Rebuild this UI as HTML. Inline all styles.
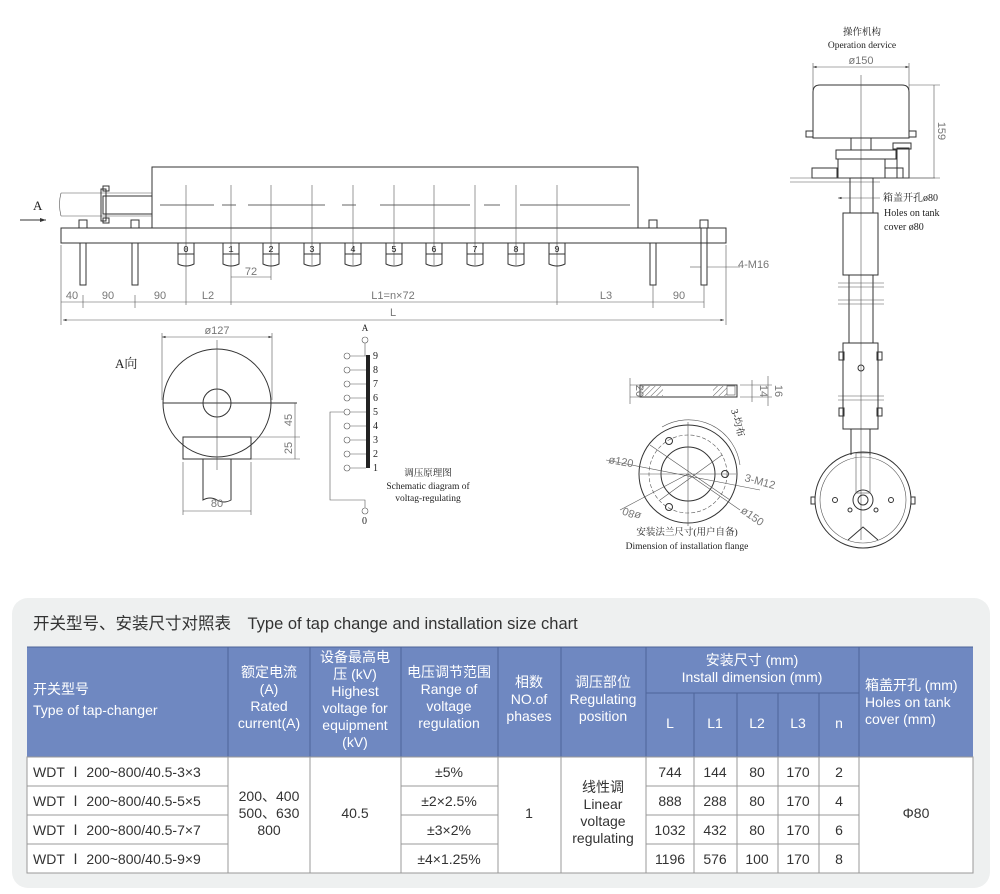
<!DOCTYPE html>
<html><head><meta charset="utf-8"><style>
body{margin:0;background:#fff;}
svg{display:block;}
.l{stroke:#333;stroke-width:1;fill:none;}
.t{stroke:#555;stroke-width:0.6;fill:none;}
.s{font-family:"Liberation Serif","Noto Serif CJK SC",serif;fill:#222;}
.m{font-family:"Liberation Mono","Noto Sans CJK SC",monospace;fill:#222;}
.d{font-family:"Liberation Sans",sans-serif;fill:#777;font-size:11px;}
.h{font-family:"Liberation Sans","Noto Sans CJK SC",sans-serif;fill:#fff;font-size:14px;text-anchor:middle;}
.b{font-family:"Liberation Sans","Noto Sans CJK SC",sans-serif;fill:#333;font-size:14px;text-anchor:middle;}
</style></head><body>
<svg width="1000" height="894" viewBox="0 0 1000 894" xmlns="http://www.w3.org/2000/svg">
<defs>
<pattern id="hat" width="4" height="4" patternUnits="userSpaceOnUse" patternTransform="rotate(45)"><line x1="0" y1="0" x2="0" y2="4" stroke="#333" stroke-width="0.8"/></pattern>
<marker id="ar" markerWidth="6" markerHeight="6" refX="6" refY="3" orient="auto"><path d="M0,1 L6,3 L0,5z" fill="#333"/></marker>
<marker id="al" markerWidth="6" markerHeight="6" refX="0" refY="3" orient="auto"><path d="M6,1 L0,3 L6,5z" fill="#333"/></marker>
</defs>

<!-- ===== Main side view ===== -->
<text x="33" y="210" class="s" font-size="13">A</text>
<line x1="20" y1="220" x2="46" y2="220" class="l" marker-end="url(#ar)"/>
<rect x="152" y="167" width="486" height="61" class="l"/>
<path d="M61 193 L152 193 M61 216 L152 216 M61 193 Q58 204 61 216" class="t"/>
<rect x="103" y="196" width="49" height="18" class="l"/>
<rect x="101" y="189" width="5" height="32" class="l"/>
<rect x="103" y="186" width="6" height="5" class="l"/><rect x="103" y="218" width="6" height="5" class="l"/>
<path d="M160 205 H214 M222 205 H236 M248 205 H325 M342 205 H356 M380 205 H470 M484 205 H500 M520 205 H630" stroke="#333" stroke-width="0.8"/>
<rect x="61" y="228" width="665" height="15" class="l"/>
<!-- studs -->
<g class="l">
<rect x="79" y="220" width="8" height="8"/><rect x="80" y="243" width="6" height="42"/>
<rect x="131" y="220" width="8" height="8"/><rect x="132" y="243" width="6" height="42"/>
<rect x="649" y="220" width="8" height="8"/><rect x="650" y="243" width="6" height="42"/>
<rect x="700" y="220" width="8" height="8"/><rect x="701" y="228" width="6" height="57"/>
</g>
<!-- taps -->
<g class="t">
<path d="M186 185 V305 M231 185 V305 M271 185 V280 M312 185 V265 M353 185 V265 M394 185 V265 M434 185 V265 M475 185 V265 M516 185 V265 M557 185 V305"/>
</g>
<g class="l">
<rect x="178" y="243" width="16" height="11"/><path d="M178 254 V264 Q186 268 194 264 V254"/>
<rect x="223" y="243" width="16" height="11"/><path d="M223 254 V264 Q231 268 239 264 V254"/>
<rect x="263" y="243" width="16" height="11"/><path d="M263 254 V264 Q271 268 279 264 V254"/>
<rect x="304" y="243" width="16" height="11"/><path d="M304 254 V264 Q312 268 320 264 V254"/>
<rect x="345" y="243" width="16" height="11"/><path d="M345 254 V264 Q353 268 361 264 V254"/>
<rect x="386" y="243" width="16" height="11"/><path d="M386 254 V264 Q394 268 402 264 V254"/>
<rect x="426" y="243" width="16" height="11"/><path d="M426 254 V264 Q434 268 442 264 V254"/>
<rect x="467" y="243" width="16" height="11"/><path d="M467 254 V264 Q475 268 483 264 V254"/>
<rect x="508" y="243" width="16" height="11"/><path d="M508 254 V264 Q516 268 524 264 V254"/>
<rect x="549" y="243" width="16" height="11"/><path d="M549 254 V264 Q557 268 565 264 V254"/>
</g>
<g class="m" font-size="9" text-anchor="middle">
<text x="186" y="252">0</text><text x="231" y="252">1</text><text x="271" y="252">2</text><text x="312" y="252">3</text><text x="353" y="252">4</text><text x="394" y="252">5</text><text x="434" y="252">6</text><text x="475" y="252">7</text><text x="516" y="252">8</text><text x="557" y="252">9</text>
</g>
<!-- dims -->
<line x1="231" y1="277" x2="271" y2="277" class="t"/><text x="251" y="275" class="d" text-anchor="middle">72</text>
<line x1="61" y1="245" x2="61" y2="325" class="t"/><line x1="726" y1="245" x2="726" y2="325" class="t"/>
<line x1="61" y1="302" x2="704" y2="302" class="t"/>
<g class="d" text-anchor="middle"><text x="72" y="299">40</text><text x="108" y="299">90</text><text x="160" y="299">90</text><text x="208" y="299">L2</text><text x="393" y="299">L1=n×72</text><text x="606" y="299">L3</text><text x="679" y="299">90</text><text x="393" y="316">L</text></g>
<g class="t"><path d="M83 295 V308 M135 295 V308 M653 285 V308 M704 285 V308"/></g>
<line x1="63" y1="320" x2="724" y2="320" class="t" marker-start="url(#al)" marker-end="url(#ar)"/>
<line x1="690" y1="267" x2="701" y2="267" class="t"/><line x1="707" y1="267" x2="740" y2="267" class="t"/>
<text x="738" y="268" class="d">4-M16</text>

<!-- ===== A view ===== -->
<text x="115" y="368" class="s" font-size="13">A向</text>
<circle cx="217" cy="403" r="54" class="l" fill="#fff"/>
<circle cx="217" cy="403" r="14" class="l"/>
<line x1="163" y1="403" x2="297" y2="403" class="l"/>
<line x1="217" y1="340" x2="217" y2="470" class="t"/>
<rect x="183" y="437" width="68" height="22" class="l" fill="#fff"/>
<path d="M203 459 V500 Q210 496 217 500 Q224 504 231 500 V459" class="l"/>
<line x1="162" y1="337" x2="272" y2="337" class="t" marker-start="url(#al)" marker-end="url(#ar)"/>
<path d="M162 333 V400 M272 333 V400" class="t"/>
<text x="217" y="334" class="d" text-anchor="middle">ø127</text>
<line x1="183" y1="511" x2="251" y2="511" class="t"/><path d="M183 462 V515 M251 462 V515" class="t"/>
<text x="217" y="507" class="d" text-anchor="middle">80</text>
<path d="M251 437 H300 M251 459 H300 M295 403 V459" class="t"/>
<text x="292" y="420" class="d" transform="rotate(-90 292 420)" text-anchor="middle">45</text>
<text x="292" y="448" class="d" transform="rotate(-90 292 448)" text-anchor="middle">25</text>

<!-- ===== schematic ===== -->
<text x="365" y="331" class="s" font-size="9" text-anchor="middle">A</text>
<circle cx="365" cy="340" r="3" class="t"/><line x1="365" y1="343" x2="365" y2="356" class="t"/>
<rect x="366" y="355" width="4" height="113" fill="#222"/>
<g class="t">
<path d="M350 356 H366 M350 370 H366 M350 384 H366 M350 398 H366 M350 412 H366 M350 426 H366 M350 440 H366 M350 454 H366 M350 468 H366"/>
<circle cx="347" cy="356" r="3"/><circle cx="347" cy="370" r="3"/><circle cx="347" cy="384" r="3"/><circle cx="347" cy="398" r="3"/><circle cx="347" cy="412" r="3"/><circle cx="347" cy="426" r="3"/><circle cx="347" cy="440" r="3"/><circle cx="347" cy="454" r="3"/><circle cx="347" cy="468" r="3"/>
<path d="M344 412 H330 V500 H365 V508"/><circle cx="365" cy="511" r="3"/>
</g>
<g class="s" font-size="10"><text x="373" y="359">9</text><text x="373" y="373">8</text><text x="373" y="387">7</text><text x="373" y="401">6</text><text x="373" y="415">5</text><text x="373" y="429">4</text><text x="373" y="443">3</text><text x="373" y="457">2</text><text x="373" y="471">1</text><text x="362" y="524">0</text></g>
<g class="s" font-size="9.5" text-anchor="middle"><text x="428" y="476">调压原理图</text><text x="428" y="489">Schematic diagram of</text><text x="428" y="501">voltag-regulating</text></g>

<!-- ===== flange ===== -->
<rect x="640" y="385" width="97" height="12" class="l"/>
<rect x="641" y="386" width="22" height="10" fill="url(#hat)"/><rect x="713" y="386" width="14" height="10" fill="url(#hat)"/>
<rect x="727" y="386" width="8" height="9" class="t"/>
<path d="M630 378 V404 M630 385 H640 M630 397 H640 M740 385 H772 M740 397 H772 M752 380 V402 M768 376 V406" class="t"/>
<text x="636" y="391" class="d" transform="rotate(90 636 391)" text-anchor="middle">20</text>
<text x="760" y="391" class="d" transform="rotate(90 760 391)" text-anchor="middle">14</text>
<text x="775" y="391" class="d" transform="rotate(90 775 391)" text-anchor="middle">16</text>
<text x="731" y="410" class="s" font-size="10" transform="rotate(75 731 410)">3-均布</text>
<circle cx="688" cy="474" r="49" class="l"/>
<circle cx="688" cy="474" r="27" class="l"/>
<circle cx="688" cy="474" r="39" class="t" stroke-dasharray="4 2"/>
<circle cx="669" cy="441" r="3.5" class="l"/><circle cx="725" cy="474" r="3.5" class="l"/><circle cx="669" cy="507" r="3.5" class="l"/>
<path d="M688 422 V526 M640 474 H736 M606 460 L760 490 M650 445 L730 500 M660 500 L722 455 M620 510 L688 474 M688 474 L740 510" class="t"/>
<path d="M662 427 A52 52 0 0 1 740 465" class="t"/>
<text x="608" y="463" class="d" transform="rotate(10 608 463)">ø120</text>
<text x="744" y="481" class="d" transform="rotate(15 744 481)">3-M12</text>
<text x="624" y="507" class="d" transform="rotate(200 624 507)" text-anchor="end">ø80</text>
<text x="740" y="512" class="d" transform="rotate(35 740 512)">ø150</text>
<g class="s" font-size="9.5" text-anchor="middle"><text x="687" y="535">安装法兰尺寸(用户自备)</text><text x="687" y="549">Dimension of installation flange</text></g>

<!-- ===== Operation device ===== -->
<g class="s" font-size="9.5" text-anchor="middle"><text x="862" y="35">操作机构</text><text x="862" y="48">Operation dervice</text></g>
<line x1="813" y1="67" x2="909" y2="67" class="t" marker-start="url(#al)" marker-end="url(#ar)"/>
<path d="M813 63 V90 M909 63 V90 M909 85 H940 M900 178 H940 M934 85 V178" class="t"/>
<text x="861" y="64" class="d" text-anchor="middle">ø150</text>
<text x="938" y="131" class="d" transform="rotate(90 938 131)" text-anchor="middle">159</text>
<path d="M813 138 V92 Q813 85 820 85 H902 Q909 85 909 92 V138 Z" class="l"/>
<line x1="861" y1="75" x2="861" y2="540" class="t"/>
<rect x="806" y="131" width="7" height="6" class="l" fill="#333"/><rect x="909" y="131" width="7" height="6" class="l" fill="#333"/>
<rect x="851" y="138" width="20" height="12" class="l"/>
<rect x="836" y="150" width="60" height="9" class="l" fill="url(#hat)"/>
<rect x="812" y="168" width="25" height="10" class="l" fill="url(#hat)"/>
<rect x="885" y="168" width="18" height="10" class="l" fill="url(#hat)"/>
<rect x="838" y="159" width="47" height="19" class="l"/>
<rect x="897" y="148" width="12" height="30" class="l" fill="url(#hat)"/>
<rect x="893" y="143" width="18" height="6" class="l"/>
<path d="M790 178 H935 M790 182 H880" class="t"/>
<rect x="850" y="178" width="23" height="35" class="l"/>
<line x1="838" y1="198" x2="880" y2="198" class="t" marker-start="url(#al)"/>
<g class="s" font-size="10"><text x="883" y="201">箱盖开孔ø80</text><text x="884" y="216">Holes on tank</text><text x="884" y="230">cover ø80</text></g>
<rect x="843" y="213" width="35" height="62" class="l"/>
<rect x="849" y="275" width="24" height="68" class="l"/>
<path d="M838 283 H884 M838 287 H884 M838 300 H884 M838 304 H884 M838 396 H884 M838 400 H884" class="t"/>
<rect x="843" y="343" width="35" height="86" class="l"/>
<rect x="839" y="352" width="5" height="8" class="l"/><rect x="877" y="352" width="5" height="8" class="l"/>
<rect x="839" y="408" width="5" height="8" class="l"/><rect x="877" y="408" width="5" height="8" class="l"/>
<circle cx="861" cy="368" r="3" class="l"/>
<path d="M851 429 V455 M870 429 V455" class="l"/>
<circle cx="863" cy="500" r="48" class="l"/><circle cx="863" cy="500" r="43" class="t"/>
<circle cx="863" cy="500" r="10" class="l"/><circle cx="863" cy="500" r="5" class="l"/>
<rect x="856" y="453" width="14" height="40" class="t"/>
<circle cx="835" cy="500" r="2.5" class="l"/><circle cx="891" cy="500" r="2.5" class="l"/>
<circle cx="850" cy="510" r="2" class="l"/><circle cx="876" cy="510" r="2" class="l"/>
<path d="M848 540 L863 527 L878 540" class="l"/>
<rect x="811" y="497" width="4" height="7" class="l"/><rect x="911" y="497" width="4" height="7" class="l"/>

<!-- ===== Table panel ===== -->
<rect x="12" y="598" width="978" height="290" rx="16" fill="#eef0f0"/>
<text x="33" y="629" font-family="Liberation Sans,'Noto Sans CJK SC',sans-serif" font-size="16.5" fill="#333">开关型号、安装尺寸对照表　Type of tap change and installation size chart</text>
<rect x="27" y="647" width="946" height="110" fill="#6f88c1"/>
<rect x="27" y="757" width="946" height="116" fill="#fff"/>
<g stroke="#4e6499" stroke-width="1">
<path d="M228 647 V757 M310 647 V757 M401 647 V757 M498 647 V757 M561 647 V757 M646 647 V757 M859 647 V757 M646 693 H859 M694 693 V757 M737 693 V757 M778 693 V757 M819 693 V757 M27 647 H973"/>
</g>
<g stroke="#999" stroke-width="1" fill="none">
<rect x="27" y="757" width="946" height="116"/>
<path d="M228 757 V873 M310 757 V873 M401 757 V873 M498 757 V873 M561 757 V873 M646 757 V873 M859 757 V873 M694 757 V873 M737 757 V873 M778 757 V873 M819 757 V873"/>
<path d="M27 786 H228 M401 786 H498 M646 786 H859 M27 815 H228 M401 815 H498 M646 815 H859 M27 844 H228 M401 844 H498 M646 844 H859"/>
</g>
<g class="h">
<text x="33" y="694" text-anchor="start">开关型号</text><text x="33" y="715" text-anchor="start">Type of tap-changer</text>
<text x="269" y="677">额定电流</text><text x="269" y="694">(A)</text><text x="269" y="711">Rated</text><text x="269" y="728">current(A)</text>
<text x="355" y="662">设备最高电</text><text x="355" y="679">压 (kV)</text><text x="355" y="696">Highest</text><text x="355" y="713">voltage for</text><text x="355" y="730">equipment</text><text x="355" y="747">(kV)</text>
<text x="449" y="677">电压调节范围</text><text x="449" y="694">Range of</text><text x="449" y="711">voltage</text><text x="449" y="728">regulation</text>
<text x="529" y="687">相数</text><text x="529" y="704">NO.of</text><text x="529" y="721">phases</text>
<text x="603" y="687">调压部位</text><text x="603" y="704">Regulating</text><text x="603" y="721">position</text>
<text x="752" y="665">安装尺寸 (mm)</text><text x="752" y="682">Install dimension (mm)</text>
<text x="670" y="728">L</text><text x="715" y="728">L1</text><text x="757" y="728">L2</text><text x="798" y="728">L3</text><text x="839" y="728">n</text>
<text x="865" y="690" text-anchor="start">箱盖开孔 (mm)</text><text x="865" y="707" text-anchor="start">Holes on tank</text><text x="865" y="724" text-anchor="start">cover (mm)</text>
</g>
<g class="b">
<text x="33" y="777" text-anchor="start">WDT Ⅰ 200~800/40.5-3×3</text>
<text x="33" y="806" text-anchor="start">WDT Ⅰ 200~800/40.5-5×5</text>
<text x="33" y="835" text-anchor="start">WDT Ⅰ 200~800/40.5-7×7</text>
<text x="33" y="864" text-anchor="start">WDT Ⅰ 200~800/40.5-9×9</text>
<text x="269" y="801">200、400</text><text x="269" y="818">500、630</text><text x="269" y="835">800</text>
<text x="355" y="818">40.5</text>
<text x="449" y="777">±5%</text><text x="449" y="806">±2×2.5%</text><text x="449" y="835">±3×2%</text><text x="449" y="864">±4×1.25%</text>
<text x="529" y="818">1</text>
<text x="603" y="792">线性调</text><text x="603" y="809">Linear</text><text x="603" y="826">voltage</text><text x="603" y="843">regulating</text>
<text x="670" y="777">744</text><text x="715" y="777">144</text><text x="757" y="777">80</text><text x="798" y="777">170</text><text x="839" y="777">2</text>
<text x="670" y="806">888</text><text x="715" y="806">288</text><text x="757" y="806">80</text><text x="798" y="806">170</text><text x="839" y="806">4</text>
<text x="670" y="835">1032</text><text x="715" y="835">432</text><text x="757" y="835">80</text><text x="798" y="835">170</text><text x="839" y="835">6</text>
<text x="670" y="864">1196</text><text x="715" y="864">576</text><text x="757" y="864">100</text><text x="798" y="864">170</text><text x="839" y="864">8</text>
<text x="916" y="818">Φ80</text>
</g>
</svg>
</body></html>
